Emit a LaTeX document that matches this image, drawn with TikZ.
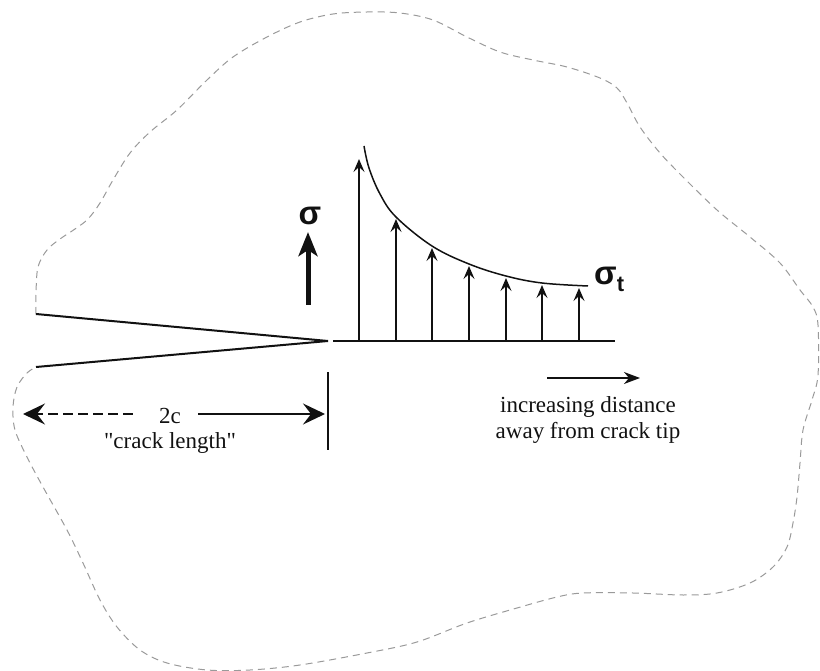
\documentclass[tikz,border=0pt]{standalone}
\usepackage{fontspec}
\setmainfont{Liberation Serif}[Ligatures=TeXOff]
\newfontfamily\sigfont{Liberation Sans}
\usetikzlibrary{arrows.meta, positioning, calc}
\definecolor{blobGray}{HTML}{9A9A9A}
\definecolor{inkDark}{HTML}{111111}

\begin{document}
\begin{tikzpicture}[
    x=1pt, y=-1pt,
    blob/.style={draw=blobGray, line width=1pt, dash pattern=on 7pt off 5pt},
    crack/.style={draw=inkDark, line width=2pt, line join=miter},
    stressarrow/.style={draw=inkDark, line width=1.4pt,
                 -{Stealth[length=13pt, width=11pt, inset=5pt]}},
    bigarrow/.style={draw=inkDark, line width=5pt,
                 -{Stealth[length=24pt, width=19pt, inset=6pt]}},
    dimarrow/.style={draw=inkDark, line width=1.5pt,
                 -{Stealth[length=22pt, width=21pt, inset=8pt]}},
    lbl/.style={font=\fontsize{23}{26}\selectfont, text=inkDark, inner sep=0pt, align=center},
    sig/.style={font=\fontsize{33}{33}\selectfont\sigfont\bfseries, text=inkDark, inner sep=0pt},
  ]
    \useasboundingbox (0,0) rectangle (820,671);

    % outline of the body
    \draw[blob] plot[smooth, tension=0.55] coordinates {
      (36,314) (36,293) (38,267) (47,250) (60,239) (75,229) (88,219) (100,203)
      (113,180) (130,153) (150,132) (177,110) (207,80) (233,57) (267,37) (300,22)
      (333,14) (367,12) (400,13) (433,20) (467,37) (500,52) (533,60) (567,67)
      (600,78) (617,88) (627,103) (640,127) (660,153) (683,177) (717,210) (750,237)
      (780,263) (800,290) (813,307) (818,325) (818,375) (812,400) (803,430) (800,463)
      (797,497) (793,523) (787,547) (773,567) (750,583) (717,593) (683,595) (633,593)
      (583,593) (557,597) (517,608) (467,623) (417,642) (367,653) (300,665) (250,670)
      (207,670) (167,663) (140,650) (117,627) (100,600) (83,563) (67,530) (43,487)
      (27,457) (15,430) (13,407) (17,387) (27,373) (36,367)};

    % crack
    \coordinate (jawU) at (36,314);
    \coordinate (jawL) at (36,367);
    \coordinate (tip) at (328,341);
    \draw[crack] (jawU) -- (tip) -- (jawL);

    % stress distribution ahead of the tip
    \coordinate (base0) at (333,341);
    \coordinate (base1) at (615,341);
    \draw[draw=inkDark, line width=1.3pt] (base0) -- (base1);

    \coordinate (b1) at (359,341); \coordinate (t1) at (359,159);
    \coordinate (b2) at (396,341); \coordinate (t2) at (396,219);
    \coordinate (b3) at (432,341); \coordinate (t3) at (432,248);
    \coordinate (b4) at (469,341); \coordinate (t4) at (469,266);
    \coordinate (b5) at (506,341); \coordinate (t5) at (506,278);
    \coordinate (b6) at (542,341); \coordinate (t6) at (542,285);
    \coordinate (b7) at (579,341); \coordinate (t7) at (579,288);
    \draw[stressarrow] (b1) -- (t1);
    \draw[stressarrow] (b2) -- (t2);
    \draw[stressarrow] (b3) -- (t3);
    \draw[stressarrow] (b4) -- (t4);
    \draw[stressarrow] (b5) -- (t5);
    \draw[stressarrow] (b6) -- (t6);
    \draw[stressarrow] (b7) -- (t7);

    \draw[draw=inkDark, line width=1.5pt] plot[smooth, tension=0.6] coordinates {
      (364,146) (369,168) (380,194) (396,217) (432,246) (469,264) (506,276)
      (542,283) (588,286)};

    \node[sig, anchor=west] (sigt) at (594,279)
      {σ\raisebox{-7pt}{\fontsize{22}{22}\selectfont t}};

    % applied stress
    \node[sig] (sigma) at (310,216) {σ};
    \coordinate (sigFoot) at (308,305);
    \draw[bigarrow] (sigFoot) -- ([yshift=-7pt]sigma.south -| sigFoot);

    % crack length
    \coordinate (dimL) at (23,414);
    \coordinate (dimR) at (325,414);
    \coordinate (markTop) at (328,372);
    \coordinate (markBot) at (328,450);
    \draw[draw=inkDark, line width=1.3pt] (markTop) -- (markBot);
    \node[lbl] (twoc) at (170,416) {2c};
    \node[lbl] (crackname) at (170,443) {"crack length"};
    \draw[dimarrow, dash pattern=on 10pt off 5pt] ([xshift=-26pt]twoc.west |- dimL) -- (dimL);
    \draw[dimarrow] ([xshift=17pt]twoc.east |- dimR) -- (dimR);

    % direction of increasing distance
    \coordinate (dirA) at (547,378);
    \coordinate (dirB) at (640,378);
    \draw[draw=inkDark, line width=1.5pt, -{Stealth[length=16pt, width=12pt, inset=5pt]}] (dirA) -- (dirB);
    \node[lbl] (distance) at (588,420) {increasing distance\\away from crack tip};
  \end{tikzpicture}
\end{document}
